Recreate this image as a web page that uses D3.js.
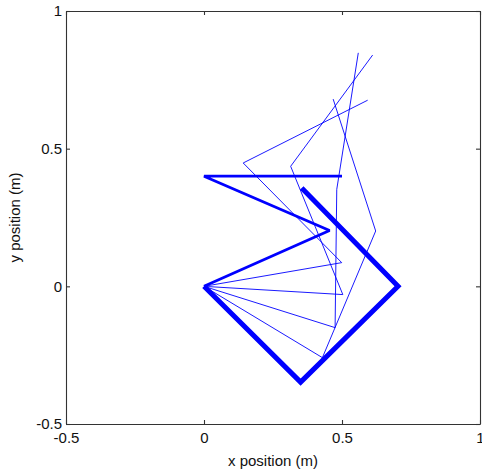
<!DOCTYPE html>
<html>
<head>
<meta charset="utf-8">
<script src="https://cdn.jsdelivr.net/npm/d3@7"></script>
<style>
  body { margin: 0; background: #fff; }
  text { font-family: "Liberation Sans", Arial, sans-serif; }
</style>
</head>
<body>
<div id="chart"></div>
<script>
'use strict';

// arm pose at the start (medium line), joints from base to tip
var startX = [0, 0.455, 0, 0.5];
var startY = [0, 0.203, 0.4, 0.4];

// arm pose at the end (thick line)
var finalX = [0, 0.350, 0.703, 0.354];
var finalY = [0, -0.348, 0, 0.357];

// intermediate poses (thin lines)
var step1X = [0, 0.499, 0.142, 0.593];
var step1Y = [0, 0.086, 0.448, 0.676];
var step2X = [0, 0.503, 0.314, 0.611];
var step2Y = [0, -0.030, 0.436, 0.840];
var step3X = [0, 0.475, 0.481, 0.559];
var step3Y = [0, -0.150, 0.352, 0.848];
var step4X = [0, 0.429, 0.622, 0.468];
var step4Y = [0, -0.259, 0.201, 0.680];

var xTicks = [-0.5, 0, 0.5, 1];
var yTicks = [-0.5, 0, 0.5, 1];
var xLabel = 'x position (m)';
var yLabel = 'y position (m)';

var width = 482, height = 471;
var margin = {left: 66, right: 2, top: 11, bottom: 47};

var svg = d3.select('#chart').append('svg')
    .attr('width', width)
    .attr('height', height);

var x = d3.scaleLinear().domain([-0.5, 1]).range([margin.left, width - margin.right]);
var y = d3.scaleLinear().domain([-0.5, 1]).range([height - margin.bottom, margin.top]);

var toPoints = function(xs, ys){
  return xs.map(function(d, i){ return [d, ys[i]]; });
};

var line = d3.line()
    .x(function(d){ return x(d[0]); })
    .y(function(d){ return y(d[1]); });

var poses = [
  {pts: toPoints(step1X, step1Y), w: 0.9},
  {pts: toPoints(step2X, step2Y), w: 0.9},
  {pts: toPoints(step3X, step3Y), w: 0.9},
  {pts: toPoints(step4X, step4Y), w: 0.9},
  {pts: toPoints(startX, startY), w: 2.8},
  {pts: toPoints(finalX, finalY), w: 5}
];

svg.selectAll('path.pose')
    .data(poses)
  .enter().append('path')
    .attr('class', 'pose')
    .attr('d', function(d){ return line(d.pts); })
    .attr('fill', 'none')
    .attr('stroke', '#0000ff')
    .attr('stroke-width', function(d){ return d.w; })
    .attr('stroke-linejoin', 'miter')
    .attr('stroke-miterlimit', 2);

// axes, ticks pointing inward like matlab
var fmt = function(d){ return String(d); };

var axBottom = svg.append('g')
    .attr('transform', 'translate(0,' + (height - margin.bottom) + ')')
    .call(d3.axisBottom(x).tickValues(xTicks).tickFormat(fmt).tickSizeInner(-4).tickSizeOuter(0).tickPadding(8));
var axTop = svg.append('g')
    .attr('transform', 'translate(0,' + margin.top + ')')
    .call(d3.axisTop(x).tickValues(xTicks).tickFormat('').tickSizeInner(-4).tickSizeOuter(0));
var axLeft = svg.append('g')
    .attr('transform', 'translate(' + margin.left + ',0)')
    .call(d3.axisLeft(y).tickValues(yTicks).tickFormat(fmt).tickSizeInner(-4).tickSizeOuter(0).tickPadding(4));
var axRight = svg.append('g')
    .attr('transform', 'translate(' + (width - margin.right) + ',0)')
    .call(d3.axisRight(y).tickValues(yTicks).tickFormat('').tickSizeInner(-4).tickSizeOuter(0));

[axBottom, axTop, axLeft, axRight].forEach(function(g){
  g.selectAll('path, line').attr('stroke', '#333').attr('stroke-width', 1.1);
  g.selectAll('text').attr('fill', '#111').style('font-size', '15px')
    .style('font-family', '"Liberation Sans", Arial, sans-serif');
});

svg.append('text')
    .attr('x', (x(-0.5) + x(1)) / 2)
    .attr('y', 466)
    .attr('text-anchor', 'middle')
    .style('font-size', '15px')
    .attr('fill', '#111')
    .text(xLabel);

svg.append('text')
    .attr('transform', 'translate(20,' + ((y(-0.5) + y(1)) / 2) + ') rotate(-90)')
    .attr('text-anchor', 'middle')
    .style('font-size', '15px')
    .attr('fill', '#111')
    .text(yLabel);
</script>
</body>
</html>
